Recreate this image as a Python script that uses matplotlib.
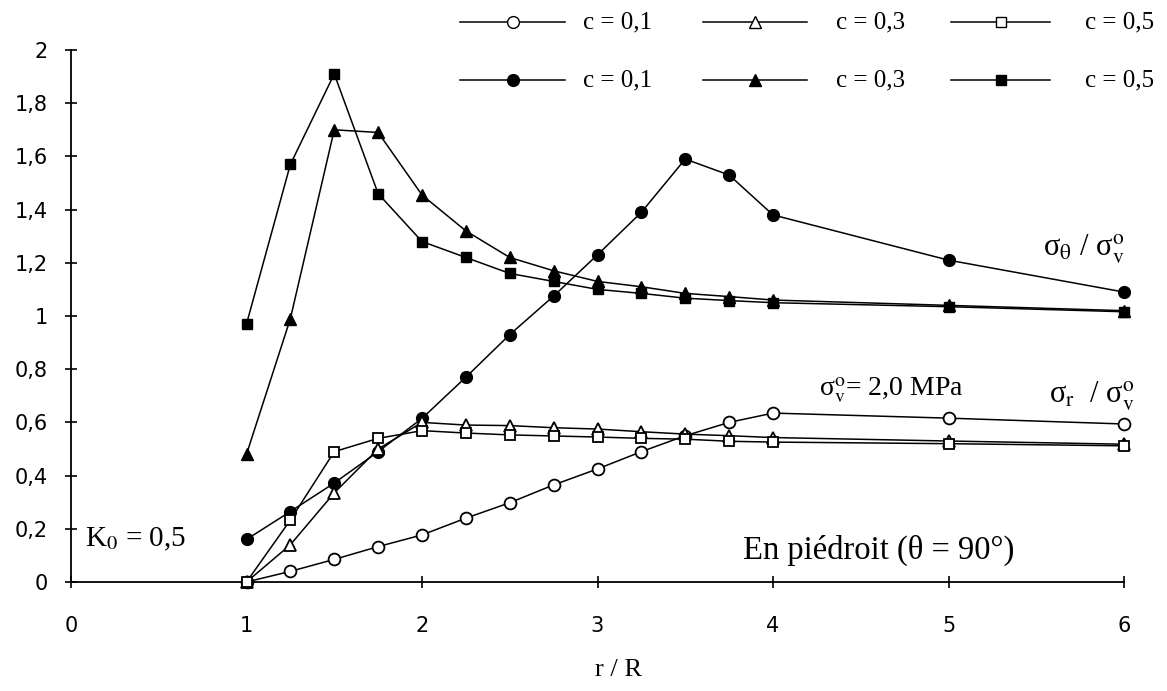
import matplotlib
matplotlib.use("Agg")
import matplotlib.pyplot as plt
from matplotlib.lines import Line2D

plt.rcParams['font.family'] = ['Liberation Serif', 'DejaVu Serif']
plt.rcParams['mathtext.fontset'] = 'stix'

# r / R
r_R = [1, 1.25, 1.5, 1.75, 2, 2.25, 2.5, 2.75, 3, 3.25, 3.5, 3.75, 4, 5, 6]

# sigma_r / sigma_v0 (open markers)
sr_c01 = [0, 0.04, 0.085, 0.133, 0.177, 0.24, 0.298, 0.365, 0.425, 0.49, 0.55, 0.60, 0.635, 0.616, 0.594]
sr_c03 = [0, 0.14, 0.335, 0.50, 0.60, 0.59, 0.588, 0.58, 0.575, 0.565, 0.556, 0.55, 0.543, 0.53, 0.518]
sr_c05 = [0, 0.233, 0.49, 0.54, 0.569, 0.56, 0.553, 0.549, 0.545, 0.54, 0.537, 0.529, 0.526, 0.52, 0.512]

# sigma_theta / sigma_v0 (filled markers)
st_c01 = [0.16, 0.265, 0.372, 0.49, 0.615, 0.77, 0.93, 1.075, 1.23, 1.39, 1.59, 1.53, 1.38, 1.21, 1.09]
st_c03 = [0.48, 0.99, 1.70, 1.69, 1.455, 1.32, 1.22, 1.17, 1.13, 1.11, 1.085, 1.073, 1.06, 1.04, 1.02]
st_c05 = [0.97, 1.57, 1.91, 1.46, 1.28, 1.22, 1.16, 1.13, 1.10, 1.085, 1.067, 1.058, 1.05, 1.035, 1.016]

labels = ['c = 0,1', 'c = 0,3', 'c = 0,5']

W, H = 1167, 691
fig = plt.figure(figsize=(W / 100, H / 100), dpi=100)
ax = fig.add_axes([71 / W, 1 - 582 / H, 1053 / W, 532 / H])

ms = 8.5
style = dict(color='black', lw=1.1, clip_on=False, zorder=3)
ax.plot(r_R, st_c01, marker='o', ms=ms, mfc='black', mec='black', **style)
ax.plot(r_R, st_c03, marker='^', ms=ms, mfc='black', mec='black', **style)
ax.plot(r_R, st_c05, marker='s', ms=ms - 1, mfc='black', mec='black', **style)
ax.plot(r_R, sr_c01, marker='o', ms=ms, mfc='white', mec='black', mew=1.3, **style)
ax.plot(r_R, sr_c03, marker='^', ms=ms, mfc='white', mec='black', mew=1.3, **style)
ax.plot(r_R, sr_c05, marker='s', ms=ms - 1, mfc='white', mec='black', mew=1.3, **style)

ax.set_xlim(0, 6)
ax.set_ylim(0, 2)
ax.set_xticks(range(0, 7))
ax.set_yticks([i * 0.2 for i in range(11)])
ax.set_yticklabels(['0', '0,2', '0,4', '0,6', '0,8', '1', '1,2', '1,4', '1,6', '1,8', '2'])
for s in ['top', 'right']:
    ax.spines[s].set_visible(False)
for s in ['left', 'bottom']:
    ax.spines[s].set_linewidth(1.3)
ax.tick_params(axis='both', direction='inout', length=9, width=1.2,
               labelsize=15)
ax.tick_params(axis='x', pad=20)
ax.tick_params(axis='y', pad=12)
for t in ax.get_xticklabels() + ax.get_yticklabels():
    t.set_family(['DejaVu Sans'])

ax.set_xlabel('r / R', fontsize=19)
ax.xaxis.set_label_coords(0.52, -0.145)

# annotations
ax.text(0.08, 0.16, r'K$_0$ = 0,5', fontsize=21, ha='left', va='center')
ax.text(3.83, 0.12, 'En piédroit (θ = 90°)', fontsize=23.5, ha='left', va='center')
ax.text(5.77, 1.25, r'σ$_{\rm \theta}$ / σ$_{\rm v}^{\rm o}$', fontsize=22, ha='center', va='center')
ax.text(5.82, 0.70, r'σ$_{\rm r}$  / σ$_{\rm v}^{\rm o}$', fontsize=22, ha='center', va='center')
ax.text(4.26, 0.72, r'σ$_{\rm v}^{\rm o}$= 2,0 MPa', fontsize=20, ha='left', va='center')

# legend drawn in figure pixels
legend_rows = [
    (22, ['o', '^', 's'], 'white'),
    (80, ['o', '^', 's'], 'black'),
]
line_spans = [(460, 565), (703, 807), (951, 1050)]
text_left = [583, 836, 1085]
for y, markers, fc in legend_rows:
    yf = 1 - y / H
    for (x0, x1), tx, mk, lab in zip(line_spans, text_left, markers, labels):
        xm = (x0 + x1) / 2
        ln = Line2D([x0 / W, xm / W, x1 / W], [yf, yf, yf], transform=fig.transFigure,
                    color='black', lw=1.1, marker=mk, markevery=[1],
                    ms=ms if mk != 's' else ms - 1, mfc=fc, mec='black')
        fig.add_artist(ln)
        fig.text(tx / W, yf, lab, fontsize=18, ha='left', va='center')

fig.savefig('out.png', dpi=100, facecolor='white')
